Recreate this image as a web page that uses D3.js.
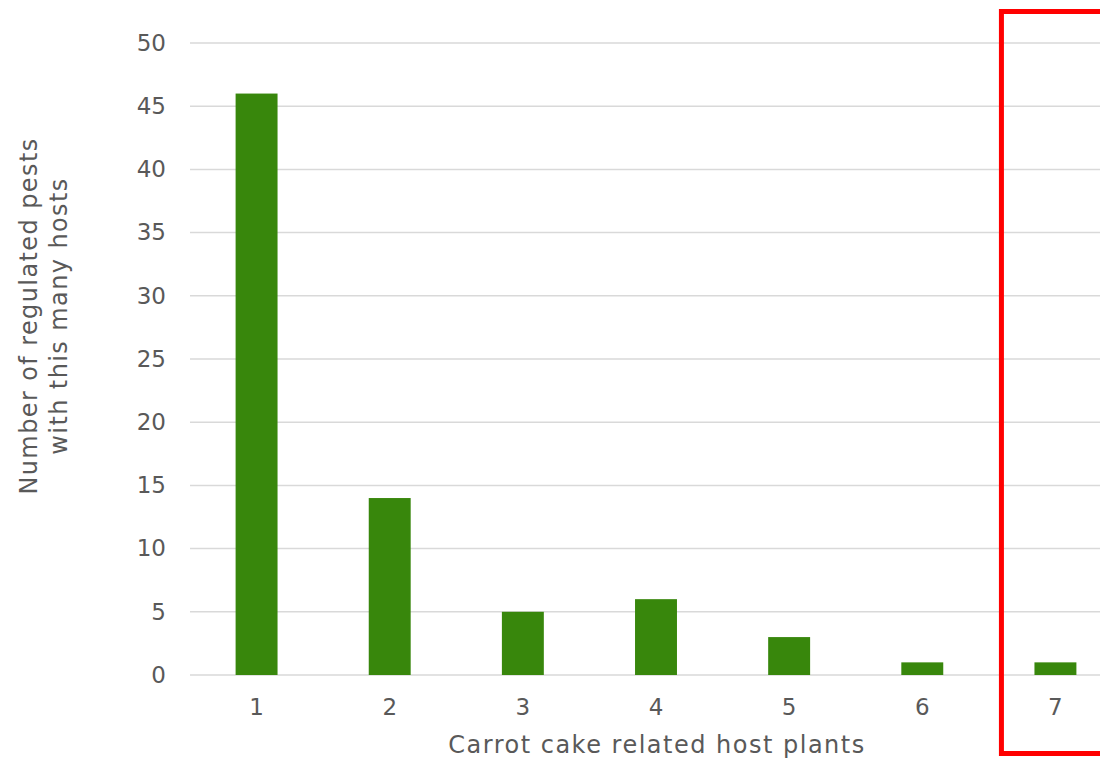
<!DOCTYPE html>
<html>
<head>
<meta charset="utf-8">
<script src="https://cdn.jsdelivr.net/npm/d3@7"></script>
<style>
  body { margin: 0; background: #fff; }
  text { font-family: "DejaVu Sans", Verdana, sans-serif; fill: #595959; }
</style>
</head>
<body>
<div id="chart"></div>
<script>
var svgWidth = 1100;
var svgHeight = 761;

// data
var hostCounts = ["1", "2", "3", "4", "5", "6", "7"];
var pestCounts = [46, 14, 5, 6, 3, 1, 1];
var yTicks = [0, 5, 10, 15, 20, 25, 30, 35, 40, 45, 50];
var highlighted = "7";

var margin = { top: 43, left: 190, bottom: 86 };
var plotRight = 1122;
var plotBottom = svgHeight - margin.bottom; // 675

var svg = d3.select("#chart")
  .append("svg")
  .attr("width", svgWidth)
  .attr("height", svgHeight);

var x = d3.scaleBand()
  .domain(hostCounts)
  .range([margin.left, plotRight])
  .paddingInner(0.685)
  .paddingOuter(0.3425);

var y = d3.scaleLinear()
  .domain([0, 50])
  .range([plotBottom, margin.top]);

// gridlines
svg.append("g")
  .selectAll("line")
  .data(yTicks)
  .enter()
  .append("line")
  .attr("x1", margin.left)
  .attr("x2", plotRight)
  .attr("y1", d => y(d))
  .attr("y2", d => y(d))
  .attr("stroke", "#d9d9d9")
  .attr("stroke-width", 1.5);

// bars
svg.append("g")
  .selectAll("rect")
  .data(pestCounts)
  .enter()
  .append("rect")
  .attr("x", (d, i) => x(hostCounts[i]))
  .attr("y", d => y(d))
  .attr("width", x.bandwidth())
  .attr("height", d => y(0) - y(d))
  .attr("fill", "#38870c");

// y axis labels
var leftAxis = d3.axisLeft(y).tickValues(yTicks).tickSize(0).tickPadding(24);
var yAxis = svg.append("g")
  .attr("transform", `translate(${margin.left}, 0)`)
  .call(leftAxis);
yAxis.select(".domain").remove();
yAxis.selectAll("text").style("font-size", "23px").attr("fill", "#595959");

// x axis labels
var bottomAxis = d3.axisBottom(x).tickSize(0);
var xAxis = svg.append("g")
  .attr("transform", `translate(0, ${plotBottom})`)
  .call(bottomAxis);
xAxis.select(".domain").remove();
xAxis.selectAll("text")
  .attr("y", 40)
  .attr("dy", null)
  .style("font-size", "23px")
  .attr("fill", "#595959");

// axis titles
svg.append("text")
  .attr("x", 657)
  .attr("y", 753)
  .attr("text-anchor", "middle")
  .style("font-size", "24px")
  .style("letter-spacing", "1.5px")
  .text("Carrot cake related host plants");

var yTitle = svg.append("text")
  .attr("transform", "translate(0, 316) rotate(-90)")
  .attr("text-anchor", "middle")
  .style("font-size", "24px")
  .style("letter-spacing", "1.4px");
yTitle.append("tspan").attr("x", 0).attr("y", 37).text("Number of regulated pests");
yTitle.append("tspan").attr("x", 0).attr("y", 67).text("with this many hosts");

// red highlight box around the last category
var hx = x(highlighted) + x.bandwidth() / 2;
svg.append("rect")
  .attr("x", hx - 54)
  .attr("y", 11.5)
  .attr("width", 140)
  .attr("height", 742)
  .attr("fill", "none")
  .attr("stroke", "#ff0000")
  .attr("stroke-width", 5);
</script>
</body>
</html>
